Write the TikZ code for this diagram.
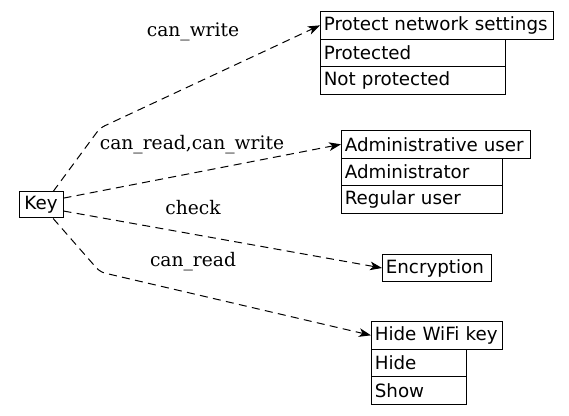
\documentclass[tikz,border=0pt]{standalone}
\usepackage{fontspec}
\setmainfont{DejaVu Sans}
\newfontfamily\lblfont{DejaVu Serif}
\usetikzlibrary{arrows.meta}
\begin{document}
\begin{tikzpicture}[x=0.75pt,y=-0.75pt,
  cell/.style={draw, line width=0.75pt, rectangle, anchor=north west, inner xsep=2.5pt, inner ysep=0pt, align=left, minimum height=20.75pt, font=\fontsize{13.7}{16}\selectfont},
  keybox/.style={draw, line width=0.75pt, rectangle, inner sep=0pt, minimum width=33pt, minimum height=19.5pt, font=\fontsize{13.7}{16}\selectfont},
  edge/.style={draw, line width=0.75pt, dash pattern=on 6pt off 4pt, -{Stealth[length=9pt,width=6.5pt,inset=2.5pt]}, rounded corners=4pt},
  lbl/.style={font=\lblfont\fontsize{14}{16}\selectfont, inner sep=0pt}]
\useasboundingbox (0,0) rectangle (569,416);
% key
\node[keybox] (key) at (41,205) {Key};
% protect network settings
\node[cell, text width=169.75pt] (psh) at (320,11) {Protect network settings};
\node[cell, text width=133.75pt] (psh1) at (320,38.67) {Protected};
\node[cell, text width=133.75pt] (psh2) at (320,66.33) {Not protected};
% administrative user
\node[cell, text width=136.75pt] (adm) at (341,130) {Administrative user};
\node[cell, text width=115.75pt] (adm1) at (341,157.67) {Administrator};
\node[cell, text width=115.75pt] (adm2) at (341,185.33) {Regular user};
% encryption
\node[cell, text width=76.75pt, minimum height=20.25pt] (enc) at (382,254) {Encryption};
% hide wifi key
\node[cell, text width=93.25pt] (hide) at (371,321) {Hide WiFi key};
\node[cell, text width=66.25pt] (hide1) at (371,348.67) {Hide};
\node[cell, text width=66.25pt] (hide2) at (371,376.33) {Show};
% connectors
\coordinate (b1) at (100,128);
\coordinate (b2) at (100,272);
\draw[edge] (key.48) -- (b1) -- (psh.west);
\draw[edge] (key.17) -- (adm.west);
\draw[edge] (key.-15) -- (enc.west);
\draw[edge] (key.-48) -- (b2) -- (hide.west);
% labels
\node[lbl] (l1) at (193,32) {can\_write};
\node[lbl] (l2) at (192,145) {can\_read,can\_write};
\node[lbl] (l3) at (193,208) {check};
\node[lbl] (l4) at (193,262) {can\_read};
\end{tikzpicture}
\end{document}
